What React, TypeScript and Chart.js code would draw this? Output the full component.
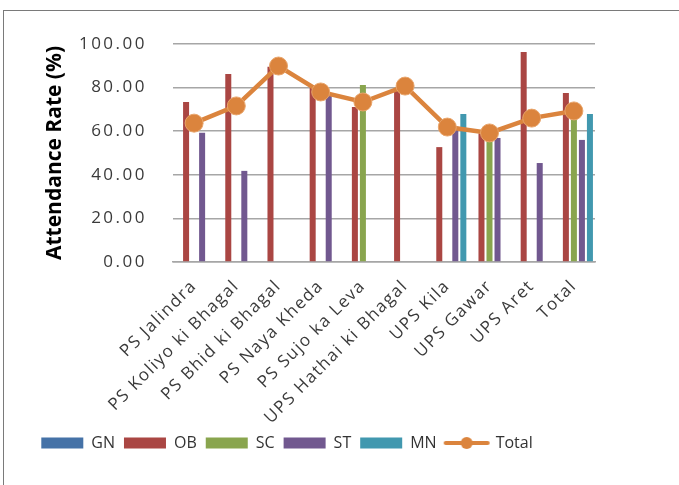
import React, { useEffect, useRef } from "react";
import { Chart, registerables } from "chart.js";

Chart.register(...registerables);

const categories = [
  "PS Jalindra",
  "PS Koliyo ki Bhagal",
  "PS Bhid ki Bhagal",
  "PS Naya Kheda",
  "PS Sujo ka Leva",
  "UPS Hathai ki Bhagal",
  "UPS Kila",
  "UPS Gawar",
  "UPS Aret",
  "Total",
];
const gnValues = [null, null, null, null, null, null, null, null, null, null];
const obValues = [73.4, 86.2, 89.6, 80.0, 71.1, 79.5, 52.7, 59.0, 96.3, 77.5];
const scValues = [null, null, null, null, 81.2, null, null, 56.0, null, 67.0];
const stValues = [59.3, 41.8, null, 76.5, null, null, 62.0, 56.9, 45.4, 56.0];
const mnValues = [null, null, null, null, null, null, 67.9, null, null, 67.9];
const totalValues = [63.7, 71.6, 89.9, 78.0, 73.4, 80.7, 61.9, 59.2, 66.0, 69.3];
const yTicks = [0, 20, 40, 60, 80, 100];
const seriesNames = ["GN", "OB", "SC", "ST", "MN", "Total"];
const seriesColors = ["#4572A7", "#AA4643", "#89A54E", "#71588F", "#4198AF", "#DB843D"];

function makeTotalIcon(color: string) {
  const c = document.createElement("canvas");
  c.width = 48;
  c.height = 16;
  const ctx = c.getContext("2d")!;
  ctx.strokeStyle = color;
  ctx.lineWidth = 4;
  ctx.lineCap = "round";
  ctx.beginPath();
  ctx.moveTo(3, 8);
  ctx.lineTo(45, 8);
  ctx.stroke();
  ctx.fillStyle = color;
  ctx.beginPath();
  ctx.arc(24, 8, 6, 0, Math.PI * 2);
  ctx.fill();
  return c;
}

function patchSpacing(scale: any, spacing: string) {
  if (!scale || scale.__patched) return;
  const orig = scale.drawLabels.bind(scale);
  scale.drawLabels = (area: any) => {
    const ctx = scale.ctx as any;
    ctx.save();
    ctx.letterSpacing = spacing;
    orig(area);
    ctx.restore();
  };
  scale.__patched = true;
}

export default function App() {
  const ref = useRef<HTMLCanvasElement | null>(null);

  useEffect(() => {
    if (!ref.current) return;
    const totalIcon = makeTotalIcon(seriesColors[5]);
    const barSets = [gnValues, obValues, scValues, stValues, mnValues].map((vals, i) => ({
      type: "bar" as const,
      label: seriesNames[i],
      data: vals,
      backgroundColor: seriesColors[i],
      borderWidth: 0,
      categoryPercentage: 0.95,
      barPercentage: 0.75,
      order: 1,
    }));
    const chart = new Chart(ref.current, {
      type: "bar",
      data: {
        labels: categories,
        datasets: [
          ...barSets,
          {
            type: "line" as const,
            label: seriesNames[5],
            data: totalValues,
            borderColor: seriesColors[5],
            backgroundColor: seriesColors[5],
            borderWidth: 4.5,
            pointRadius: 9,
            pointBorderWidth: 1,
            pointBorderColor: "#e8a46a",
            pointBackgroundColor: seriesColors[5],
            tension: 0,
            order: 0,
          } as any,
        ],
      },
      options: {
        responsive: false,
        animation: false,
        devicePixelRatio: 1,
        layout: { padding: { left: 0, right: 84, top: 44, bottom: 24 } },
        plugins: {
          tooltip: { enabled: false },
          legend: {
            position: "bottom",
            labels: {
              usePointStyle: true,
              pointStyleWidth: 42,
              boxHeight: 11,
              padding: 9,
              color: "#333333",
              font: { family: "Open Sans", size: 16 },
              generateLabels: (ch: any) => {
                const items = (Chart.defaults.plugins.legend.labels as any).generateLabels(ch);
                items.forEach((it: any) => {
                  it.pointStyle = it.datasetIndex === 5 ? totalIcon : "rect";
                  it.lineWidth = 0;
                });
                return items.sort((a: any, b: any) => a.datasetIndex - b.datasetIndex);
              },
            },
          },
        },
        scales: {
          x: {
            grid: { display: false, drawTicks: false },
            border: { display: true, color: "#a6a6a6", width: 1.5 },
            ticks: {
              color: "#3a3a3a",
              font: { family: "Open Sans", size: 17 },
              minRotation: 45,
              maxRotation: 45,
              padding: 14,
              autoSkip: false,
            },
            afterFit: (s: any) => {
              s.height = 164;
            },
          },
          y: {
            min: yTicks[0],
            max: yTicks[yTicks.length - 1],
            grid: { color: "#a6a6a6", lineWidth: 1.5, drawTicks: false },
            border: { display: false },
            ticks: {
              stepSize: yTicks[1] - yTicks[0],
              color: "#3a3a3a",
              font: { family: "Open Sans", size: 17 },
              padding: 26,
              callback: (v: any) => Number(v).toFixed(2),
            },
            title: {
              display: true,
              text: "Attendance Rate (%)",
              color: "#000000",
              font: { family: "Open Sans", size: 21, weight: "bold" },
              padding: { top: 42, bottom: 0 },
            },
            afterFit: (s: any) => {
              s.width = 173;
            },
          },
        },
      },
      plugins: [
        {
          id: "spacingAndLegendShift",
          afterUpdate(ch: any) {
            patchSpacing(ch.scales.x, "1.5px");
            patchSpacing(ch.scales.y, "2.5px");
          },
          afterLayout(ch: any) {
            const lg = ch.legend;
            if (lg) {
              const cur = (lg.left + lg.right) / 2;
              const shift = 287 - cur;
              lg.left += shift;
              lg.right += shift;
            }
          },
        },
      ],
    });
    return () => chart.destroy();
  }, []);

  return (
    <div
      style={{
        position: "fixed",
        left: 0,
        top: 0,
        width: 679,
        height: 485,
        background: "#ffffff",
        overflow: "hidden",
      }}
    >
      <div
        style={{
          position: "absolute",
          left: 3,
          top: 10,
          width: 720,
          height: 520,
          border: "1px solid #7a7a7a",
        }}
      />
      <canvas
        ref={ref}
        width={679}
        height={485}
        style={{ position: "absolute", left: 0, top: 0, width: 679, height: 485 }}
      />
    </div>
  );
}
